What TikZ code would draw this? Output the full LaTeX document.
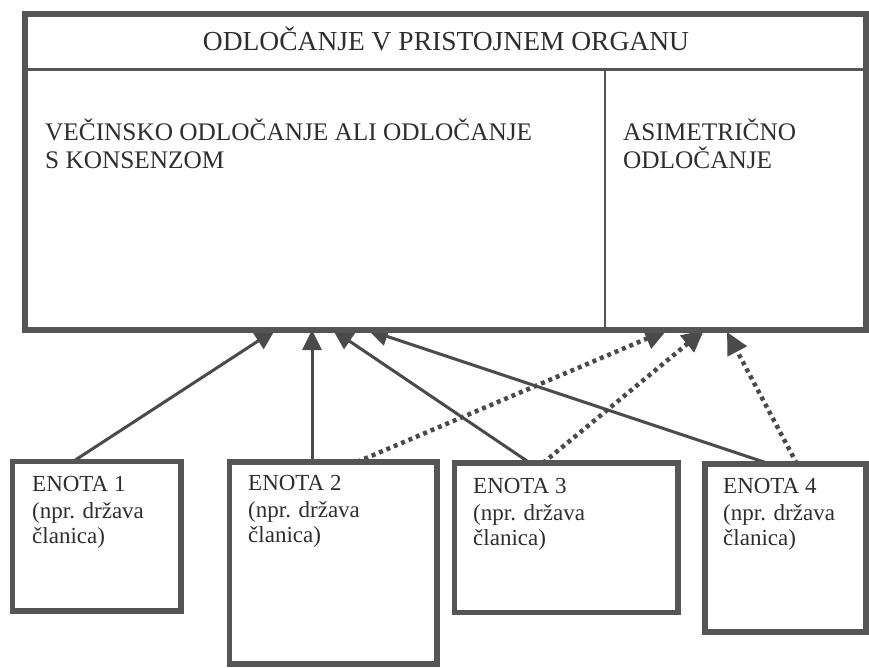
\documentclass[tikz,border=0pt]{standalone}
\usepackage{fontspec}
\setmainfont{Liberation Serif}
\usetikzlibrary{arrows.meta,calc,backgrounds}
\definecolor{frame}{HTML}{555555}
\definecolor{ink}{HTML}{2E2E2E}
\definecolor{link}{HTML}{4A4A4A}
\tikzset{
  framebox/.style={rectangle, draw=frame, line width=6pt, inner sep=0pt, outer sep=0pt},
  unitbox/.style={rectangle, draw=frame, line width=5.5pt, inner sep=0pt, outer sep=0pt},
  rule/.style={draw=frame, line width=2.5pt},
  divider/.style={draw=frame, line width=1.6pt},
  head/.style={text=ink, font=\fontsize{27.5}{30}\selectfont, inner sep=0pt, anchor=base},
  colhead/.style={text=ink, font=\fontsize{25.3}{28}\selectfont, inner sep=0pt, anchor=base west},
  unitlbl/.style={text=ink, font=\fontsize{23}{26}\selectfont, inner sep=0pt, anchor=base west},
  vote/.style={draw=link, line width=3pt, -{Triangle[length=20pt,width=19pt]}},
  asym/.style={draw=link, line width=4.5pt, dash pattern=on 4pt off 4pt,
               -{Triangle[length=22pt,width=21pt]}},
}
\begin{document}
\begin{tikzpicture}[x=1pt,y=-1pt]
\useasboundingbox (0,0) rectangle (869,667);

% decision body
\node[framebox, minimum width=840.5pt, minimum height=316.5pt] (main) at (445.25,171.75) {};
\draw[rule] ($(main.north west)+(0,56)$) -- ($(main.north east)+(0,56)$);
\draw[divider] ($(main.south west)+(580,0)$) -- ($(main.north west)+(580,56)$);

\node[head] (title) at (446,50) {ODLOČANJE V PRISTOJNEM ORGANU};
\node[colhead] (maj1) at (45,140) {VEČINSKO ODLOČANJE ALI ODLOČANJE};
\node[colhead] (maj2) at (45,168) {S KONSENZOM};
\node[colhead] (asy1) at (623,140) {ASIMETRIČNO};
\node[colhead] (asy2) at (623,168) {ODLOČANJE};

% member units
\node[unitbox, minimum width=168.5pt, minimum height=149.5pt] (e1) at (96.75,536.25) {};
\node[unitbox, minimum width=207.5pt, minimum height=202pt]   (e2) at (333.25,563) {};
\node[unitbox, minimum width=223.5pt, minimum height=149.5pt] (e3) at (566.25,537.75) {};
\node[unitbox, minimum width=161pt,   minimum height=168pt]   (e4) at (785.5,548) {};

\foreach \i/\x/\y in {1/32/491, 2/248/490, 3/473/493, 4/723/493} {
  \node[unitlbl] (l\i a) at (\x,\y) {ENOTA \i};
  \node[unitlbl] (l\i b) at (\x,\y+27) {(npr. država};
  \node[unitlbl] (l\i c) at (\x,\y+52) {članica)};
}

% votes: solid for majority/consensus, dotted for asymmetric
\begin{scope}[on background layer]
  \draw[vote] ($(e1.north west)+(60.5,0)$) -- ($(main.south west)+(250,0)$);
  \draw[vote] ($(e2.north west)+(82.5,0)$) -- ($(main.south west)+(287,0)$);
  \draw[vote] ($(e3.north west)+(75.5,0)$) -- ($(main.south west)+(308,0)$);
  \draw[vote] ($(e4.north west)+(65,0)$)   -- ($(main.south west)+(343,0)$);
  \draw[asym] ($(e2.north west)+(127.5,0)$) -- ($(main.south west)+(642,0)$);
  \draw[asym] ($(e3.north west)+(88.5,0)$)  -- ($(main.south west)+(679,0)$);
  \draw[asym] ($(e4.north west)+(92,0)$)    -- ($(main.south west)+(702,2)$);
\end{scope}
\end{tikzpicture}
\end{document}
